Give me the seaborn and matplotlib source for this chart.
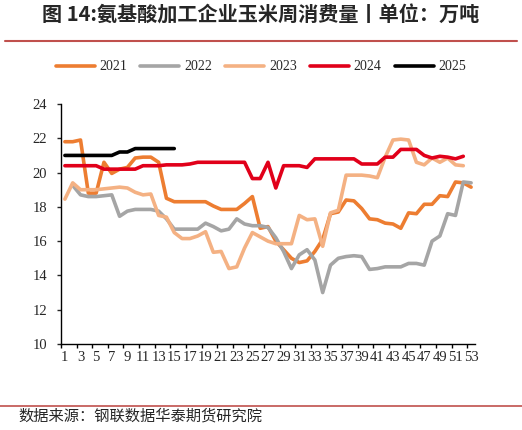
import pandas as pd
import matplotlib
matplotlib.use('Agg')
import matplotlib.pyplot as plt
from matplotlib.lines import Line2D
import seaborn as sns

years = ['2021', '2022', '2023', '2024', '2025']
colors = ['#ED7D31', '#A5A5A5', '#F4B183', '#E1001A', '#000000']

# weekly corn consumption (10k tons)
weeks_2021 = list(range(1, 54))
vals_2021 = [21.8, 21.8, 21.9, 18.8, 18.8, 20.6, 19.95, 20.2, 20.3, 20.85,
             20.9, 20.9, 20.6, 18.5, 18.3, 18.3, 18.3, 18.3, 18.3, 18.05,
             17.85, 17.85, 17.85, 18.2, 18.6, 16.75, 16.85, 16.0, 15.5, 15.0,
             14.75, 14.85, 15.4, 16.1, 17.6, 17.7, 18.4, 18.35, 17.9, 17.3,
             17.25, 17.05, 17.0, 16.75, 17.65, 17.6, 18.15, 18.15, 18.65, 18.6,
             19.45, 19.4, 19.15]

weeks_2022 = list(range(2, 54))
vals_2022 = [19.25, 18.7, 18.6, 18.6, 18.65, 18.7, 17.45, 17.75, 17.85,
             17.85, 17.85, 17.75, 17.3, 16.7, 16.7, 16.7, 16.7, 17.05, 16.85,
             16.6, 16.7, 17.3, 17.0, 16.9, 16.9, 16.8, 16.2, 15.4, 14.4,
             15.2, 15.5, 14.9, 13.0, 14.6, 15.0, 15.1, 15.15, 15.1, 14.35,
             14.4, 14.5, 14.5, 14.5, 14.7, 14.7, 14.6, 16.0, 16.3, 17.6,
             17.5, 19.45, 19.4]

weeks_2023 = list(range(1, 53))
vals_2023 = [18.45, 19.4, 19.0, 19.0, 19.0, 19.05, 19.1, 19.15, 19.1, 18.85,
             18.7, 18.75, 17.5, 17.4, 16.5, 16.15, 16.15, 16.3, 16.55, 15.35,
             15.4, 14.4, 14.5, 15.6, 16.5, 16.25, 16.0, 15.85, 15.85, 15.85,
             17.5, 17.25, 17.3, 15.7, 17.65, 17.8, 19.85, 19.85, 19.85, 19.8,
             19.7, 20.9, 21.9, 21.95, 21.9, 20.6, 20.45, 20.85, 20.6, 20.85,
             20.45, 20.4]

weeks_2024 = list(range(1, 53))
vals_2024 = [20.4, 20.4, 20.4, 20.4, 20.4, 20.2, 20.2, 20.2, 20.2, 20.2,
             20.4, 20.4, 20.4, 20.45, 20.45, 20.45, 20.5, 20.6, 20.6, 20.6,
             20.6, 20.6, 20.6, 20.6, 19.65, 19.65, 20.6, 19.1, 20.4, 20.4,
             20.4, 20.3, 20.8, 20.8, 20.8, 20.8, 20.8, 20.8, 20.5, 20.5,
             20.5, 20.9, 20.9, 21.35, 21.35, 21.35, 21.0, 20.85, 20.95, 20.9,
             20.8, 20.95]

weeks_2025 = list(range(1, 16))
vals_2025 = [21.0, 21.0, 21.0, 21.0, 21.0, 21.0, 21.0, 21.2, 21.2, 21.4,
             21.4, 21.4, 21.4, 21.4, 21.4]

y_ticks = [10, 12, 14, 16, 18, 20, 22, 24]
x_labels = list(range(1, 54, 2))

title = '图 14:氨基酸加工企业玉米周消费量丨单位：万吨'
source = '数据来源：钢联数据华泰期货研究院'

sns.set_style('ticks')
plt.rcParams['font.family'] = ['Liberation Serif', 'DejaVu Serif']
cjk = ['Noto Sans CJK SC', 'DejaVu Sans']

frames = []
for yr, wk, vals in zip(years,
                        [weeks_2021, weeks_2022, weeks_2023, weeks_2024, weeks_2025],
                        [vals_2021, vals_2022, vals_2023, vals_2024, vals_2025]):
    frames.append(pd.DataFrame({'week': wk, 'value': vals, 'year': yr}))
df = pd.concat(frames, ignore_index=True)

W, H = 522, 430
fig = plt.figure(figsize=(W / 100, H / 100), dpi=100)
ax = fig.add_axes([61 / W, 1 - 344 / H, (475 - 61) / W, (344 - 104) / H])

sns.lineplot(data=df, x='week', y='value', hue='year', hue_order=years,
             palette=dict(zip(years, colors)), linewidth=2.6, ax=ax,
             legend=False, errorbar=None, solid_joinstyle='round',
             solid_capstyle='round')

ax.set_xlim(0.5, 53.5)
ax.set_ylim(10, 24)
ax.set_yticks(y_ticks)
ax.set_yticklabels([str(v) for v in y_ticks])
ax.set_xticks([0.5 + 2 * k for k in range(27)])
ax.set_xticklabels([])
ax.set_xticks(x_labels, minor=True)
ax.set_xticklabels([str(v) for v in x_labels], minor=True)
ax.tick_params(axis='x', which='major', direction='out', length=3, width=1, color='black')
ax.tick_params(axis='x', which='minor', length=0, pad=5, labelsize=10.5)
ax.tick_params(axis='y', direction='out', length=3, width=1, pad=7, labelsize=10.5)
ax.set_xlabel('')
ax.set_ylabel('')
for s in ['top', 'right']:
    ax.spines[s].set_visible(False)
for s in ['left', 'bottom']:
    ax.spines[s].set_color('black')
    ax.spines[s].set_linewidth(1.0)

handles = [Line2D([], [], color=c, lw=2.6) for c in colors]
fig.legend(handles, years, loc='center', bbox_to_anchor=(0.5, 1 - 67 / H),
           ncol=5, frameon=False, handlelength=2.8, handletextpad=0.35,
           columnspacing=0.95, prop={'family': 'Liberation Serif', 'size': 10})

fig.text(0.5, 1 - 15 / H, title, ha='center', va='center', fontsize=14.5,
         fontweight='bold', family=cjk)
fig.add_artist(Line2D([5 / W, 517 / W], [1 - 41 / H] * 2, color='#C0504D',
                      lw=1.5, transform=fig.transFigure))
fig.add_artist(Line2D([0, 1], [1 - 406 / H] * 2, color='#C0504D',
                      lw=1.2, transform=fig.transFigure))
fig.text(18 / W, 1 - 416 / H, source, ha='left', va='center', fontsize=11,
         family=cjk)

fig.savefig('out.png', dpi=100)
